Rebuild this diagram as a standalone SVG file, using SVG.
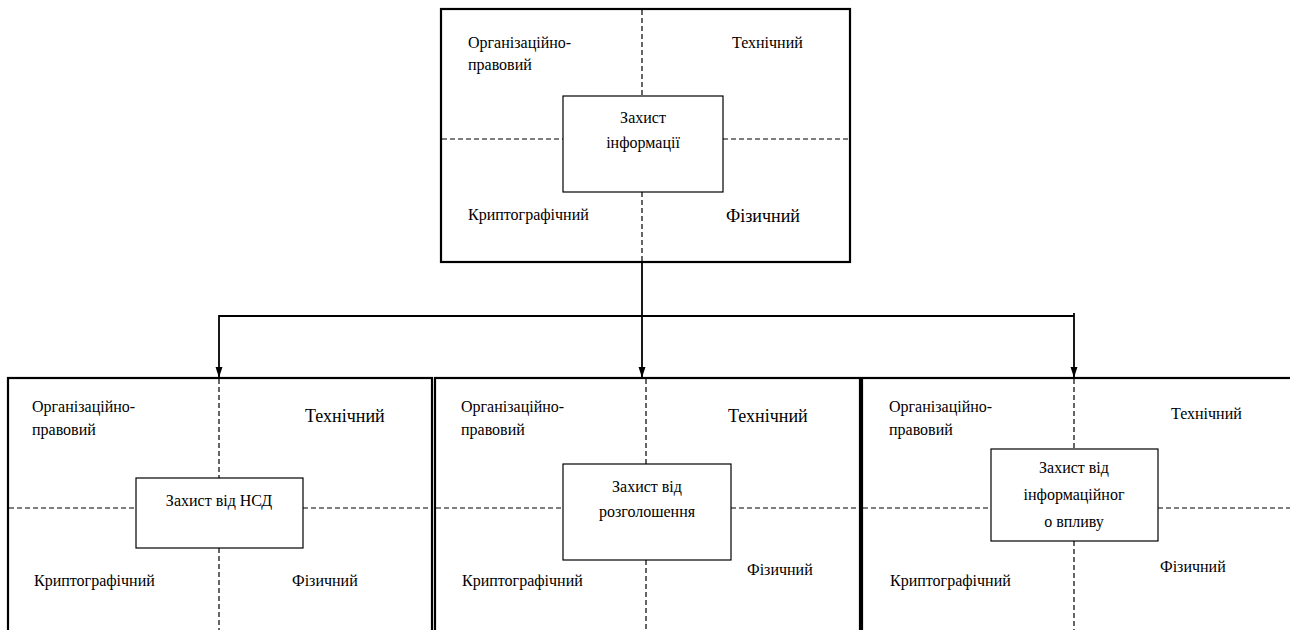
<svg xmlns="http://www.w3.org/2000/svg" width="1290" height="630" viewBox="0 0 1290 630">
<style>
.frame{fill:#fff;stroke:#000;stroke-width:2.2}
.inner{fill:#fff;stroke:#000;stroke-width:1.2}
.dash{stroke:#000;stroke-width:1.2;stroke-dasharray:5,3;fill:none}
.conn{stroke:#000;stroke-width:1.8;fill:none}
.t{font-family:"Liberation Serif","Times New Roman",serif;font-size:16px;fill:#000}
.big{font-size:18px}
.c{text-anchor:middle}
</style>
<defs>
<marker id="ah" markerUnits="userSpaceOnUse" markerWidth="11" markerHeight="17" refX="16" refY="5.5" orient="auto" viewBox="0 0 17 11">
<path d="M0,0 L17,5.5 L0,11 Z" fill="#000"/>
</marker>
</defs>
<rect width="1290" height="630" fill="#fff"/>

<g id="top">
<rect class="frame" x="441" y="9" width="409" height="253"/>
<line class="dash" x1="642" y1="10" x2="642" y2="96"/>
<line class="dash" x1="642" y1="192" x2="642" y2="262"/>
<line class="dash" x1="442" y1="139" x2="563" y2="139"/>
<line class="dash" x1="723" y1="139" x2="849" y2="139"/>
<rect class="inner" x="563" y="96" width="160" height="96"/>
<text class="t c" x="643" y="123">Захист</text>
<text class="t c" x="643" y="148">інформації</text>
<text class="t" x="468" y="48">Організаційно-</text>
<text class="t" x="468" y="70">правовий</text>
<text class="t" x="732" y="48">Технічний</text>
<text class="t" x="468" y="220">Криптографічний</text>
<text class="t big" x="726" y="222">Фізичний</text>
</g>

<g id="n1">
<rect class="frame" x="8" y="378" width="424" height="260"/>
<line class="dash" x1="219" y1="379" x2="219" y2="478"/>
<line class="dash" x1="219" y1="548" x2="219" y2="630"/>
<line class="dash" x1="9" y1="508" x2="136" y2="508"/>
<line class="dash" x1="303" y1="508" x2="431" y2="508"/>
<rect class="inner" x="136" y="478" width="167" height="70"/>
<text class="t c" x="219" y="506">Захист від НСД</text>
<text class="t" x="32" y="412">Організаційно-</text>
<text class="t" x="32" y="435">правовий</text>
<text class="t big" x="305" y="422">Технічний</text>
<text class="t" x="34" y="586">Криптографічний</text>
<text class="t" x="292" y="586">Фізичний</text>
</g>

<g id="n2">
<rect class="frame" x="435" y="378" width="425" height="260"/>
<line class="dash" x1="646" y1="379" x2="646" y2="464"/>
<line class="dash" x1="646" y1="560" x2="646" y2="630"/>
<line class="dash" x1="436" y1="508" x2="563" y2="508"/>
<line class="dash" x1="731" y1="508" x2="859" y2="508"/>
<rect class="inner" x="563" y="464" width="168" height="96"/>
<text class="t c" x="647" y="492">Захист від</text>
<text class="t c" x="647" y="517">розголошення</text>
<text class="t" x="461" y="412">Організаційно-</text>
<text class="t" x="461" y="435">правовий</text>
<text class="t big" x="728" y="422">Технічний</text>
<text class="t" x="462" y="586">Криптографічний</text>
<text class="t" x="747" y="575">Фізичний</text>
</g>

<g id="n3">
<rect class="frame" x="862" y="378" width="432" height="260"/>
<line class="dash" x1="1074" y1="379" x2="1074" y2="449"/>
<line class="dash" x1="1074" y1="541" x2="1074" y2="630"/>
<line class="dash" x1="863" y1="508" x2="991" y2="508"/>
<line class="dash" x1="1158" y1="508" x2="1290" y2="508"/>
<rect class="inner" x="991" y="449" width="167" height="92"/>
<text class="t c" x="1074" y="473">Захист від</text>
<text class="t c" x="1074" y="500">інформаційног</text>
<text class="t c" x="1074" y="527">о впливу</text>
<text class="t" x="889" y="412">Організаційно-</text>
<text class="t" x="889" y="435">правовий</text>
<text class="t" x="1171" y="419">Технічний</text>
<text class="t" x="890" y="586">Криптографічний</text>
<text class="t" x="1160" y="572">Фізичний</text>
</g>

<g id="connectors">
<line class="conn" x1="642" y1="262" x2="642" y2="377" marker-end="url(#ah)"/>
<line class="conn" x1="219" y1="316" x2="1074" y2="316"/>
<line class="conn" x1="219" y1="315" x2="219" y2="377" marker-end="url(#ah)"/>
<line class="conn" x1="1074" y1="313" x2="1074" y2="377" marker-end="url(#ah)"/>
</g>
</svg>
